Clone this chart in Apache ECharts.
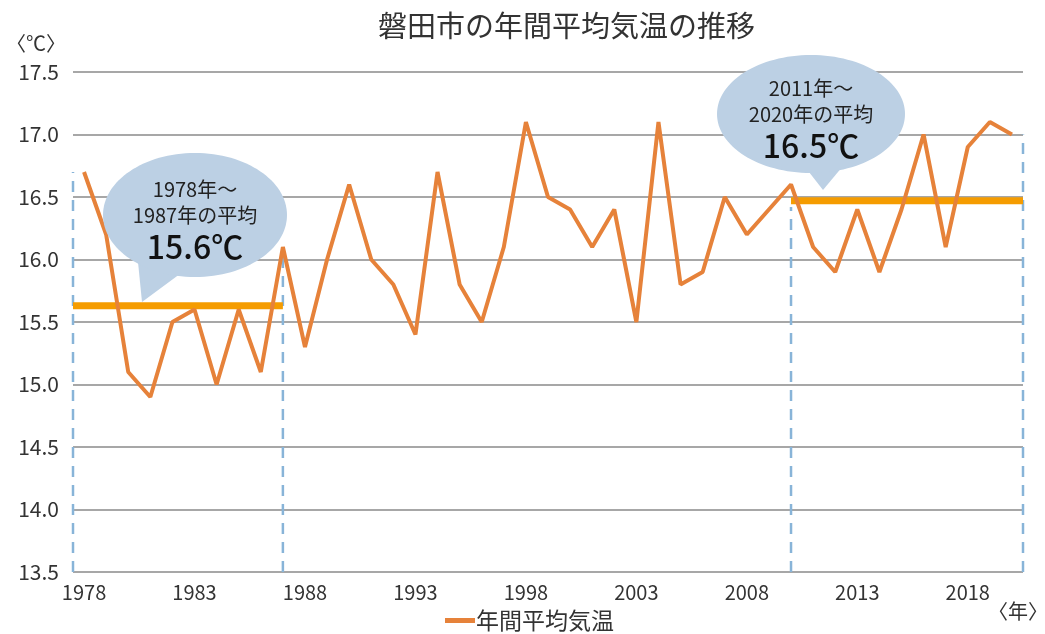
<!DOCTYPE html>
<html><head><meta charset="utf-8">
<script src="https://cdn.jsdelivr.net/npm/echarts@6/dist/echarts.min.js"></script>
<style>html,body{margin:0;padding:0;background:#fff}#c{width:1045px;height:634px}</style>
</head><body><div id="c"></div>
<script>
const years = [];
for (let y = 1978; y <= 2020; y++) years.push(String(y));
const temps = [16.7,16.2,15.1,14.9,15.5,15.6,15.0,15.6,15.1,16.1,
  15.3,16.0,16.6,16.0,15.8,15.4,16.7,15.8,15.5,16.1,
  17.1,16.5,16.4,16.1,16.4,15.5,17.1,15.8,15.9,16.5,
  16.2,16.4,16.6,16.1,15.9,16.4,15.9,16.4,17.0,16.1,
  16.9,17.1,17.0];
// average segments: [fromYear, toYear, value]
const avgSegments = [[1977.5, 1987, 15.63], [2010, 2020.5, 16.47]];
// dashed guide lines: [year, topValue]
const guideLines = [[1977.5, 16.7], [1987, 16.05], [2010, 16.42], [2020.5, 17.0]];
const yTicks = {min: 13.5, max: 17.5, interval: 0.5};

const FONT = '"Noto Sans CJK JP", "Noto Sans", sans-serif';
const chart = echarts.init(document.getElementById('c'));

const avgSeries = avgSegments.map((s, i) => ({
  type: 'line', xAxisIndex: 1, silent: true, symbol: 'none', z: 3,
  lineStyle: {color: '#F59C00', width: 7},
  data: [[s[0], s[2]], [s[1], s[2]]]
}));
const guideSeries = guideLines.map(g => ({
  type: 'line', xAxisIndex: 1, silent: true, symbol: 'none', z: 1,
  lineStyle: {color: '#88B4D8', width: 2.5, type: [11, 8]},
  data: [[g[0], yTicks.min], [g[0], g[1]]]
}));

function bubble(cx, cy, rx, ry, tail, lines) {
  return [
    {type: 'polygon', z: 10, shape: {points: tail}, style: {fill: '#BCD0E4'}},
    {type: 'ellipse', z: 10, shape: {cx, cy, rx, ry}, style: {fill: '#BCD0E4'}},
    {type: 'text', z: 11, x: cx, y: cy - 26, style: {text: lines[0], font: '20px ' + FONT, fill: '#222', align: 'center', verticalAlign: 'middle'}},
    {type: 'text', z: 11, x: cx, y: cy, style: {text: lines[1], font: '20px ' + FONT, fill: '#222', align: 'center', verticalAlign: 'middle'}},
    {type: 'text', z: 11, x: cx, y: cy + 32, style: {text: lines[2], font: '500 32px ' + FONT, fill: '#111', align: 'center', verticalAlign: 'middle'}}
  ];
}

chart.setOption({
  animation: false,
  textStyle: {fontFamily: FONT},
  title: {text: '磐田市の年間平均気温の推移', left: 373, top: 6,
    textStyle: {fontSize: 29, fontWeight: 'normal', color: '#333', fontFamily: FONT}},
  legend: {bottom: -3, left: 440, itemWidth: 30, itemHeight: 5, icon: 'rect', itemGap: 4,
    data: ['年間平均気温'], textStyle: {fontSize: 23, color: '#333', fontFamily: FONT, padding: [0, 0, 0, -4]}},
  grid: {left: 73, right: 22, top: 72, bottom: 62},
  xAxis: [{
    type: 'category', data: years, boundaryGap: true,
    axisLine: {show: false}, axisTick: {show: false},
    axisLabel: {interval: 4, fontSize: 20, color: '#333', margin: 10, fontFamily: FONT}
  }, {
    type: 'value', min: 1977.5, max: 2020.5, show: false
  }],
  yAxis: {
    type: 'value', min: yTicks.min, max: yTicks.max, interval: yTicks.interval,
    axisLine: {show: false}, axisTick: {show: false},
    axisLabel: {fontSize: 21, color: '#333', margin: 14, formatter: v => v.toFixed(1), fontFamily: FONT},
    splitLine: {lineStyle: {color: '#8a8a8a', width: 1.5}}
  },
  series: [
    {name: '年間平均気温', type: 'line', data: temps, symbol: 'none', z: 5,
     itemStyle: {color: '#E6823A'}, lineStyle: {color: '#E6823A', width: 4}},
    ...avgSeries, ...guideSeries
  ],
  graphic: [
    {type: 'text', left: 6, top: 33, style: {text: '〈℃〉', font: '20px ' + FONT, fill: '#333'}},
    {type: 'text', left: 988, top: 601, style: {text: '〈年〉', font: '20px ' + FONT, fill: '#333'}},
    ...bubble(195, 215, 92, 62, [[138, 262], [188, 268], [142, 302]], ['1978年～', '1987年の平均', '15.6℃']),
    ...bubble(811, 114, 94, 59, [[798, 158], [848, 160], [823, 190]], ['2011年～', '2020年の平均', '16.5℃'])
  ]
});
</script></body></html>
